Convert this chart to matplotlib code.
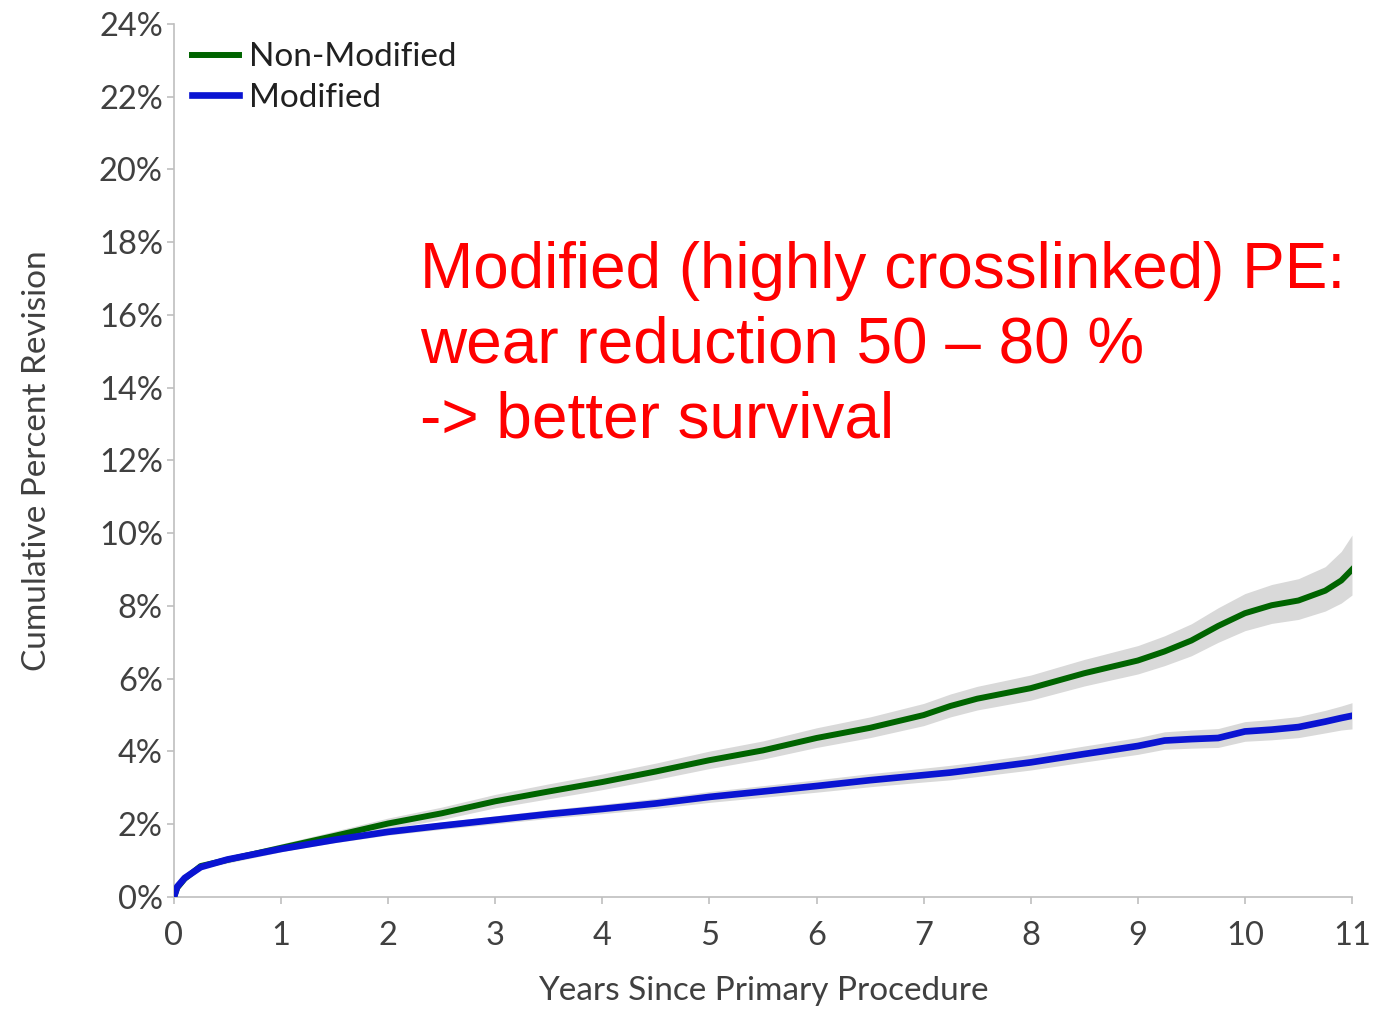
import numpy as np
import matplotlib
matplotlib.use("Agg")
import matplotlib.pyplot as plt

# Years since primary procedure
years = [0, 0.03, 0.1, 0.25, 0.5, 1.0, 1.5, 2.0, 2.5, 3.0, 3.5, 4.0, 4.5, 5.0, 5.5,
         6.0, 6.5, 7.0, 7.25, 7.5, 8.0, 8.5, 9.0, 9.25, 9.5, 9.75, 10.0, 10.25,
         10.5, 10.75, 10.9, 11.0]

# Cumulative percent revision (%)
non_modified = [0, 0.25, 0.5, 0.85, 1.02, 1.35, 1.68, 2.02, 2.3, 2.63, 2.9, 3.16,
                3.45, 3.76, 4.03, 4.37, 4.65, 5.0, 5.25, 5.45, 5.74, 6.15, 6.5,
                6.75, 7.05, 7.45, 7.8, 8.02, 8.15, 8.42, 8.7, 9.0]
modified = [0, 0.28, 0.52, 0.82, 1.03, 1.32, 1.57, 1.79, 1.96, 2.12, 2.28, 2.42,
            2.57, 2.75, 2.9, 3.05, 3.21, 3.35, 3.42, 3.51, 3.7, 3.93, 4.15, 4.3,
            4.34, 4.37, 4.55, 4.6, 4.67, 4.82, 4.92, 4.98]

# Confidence band half-widths (%)
non_mod_lo = [0, 0.03, 0.05, 0.07, 0.09, 0.11, 0.13, 0.15, 0.17, 0.18, 0.2, 0.21,
              0.22, 0.23, 0.24, 0.26, 0.27, 0.29, 0.3, 0.31, 0.33, 0.35, 0.37,
              0.39, 0.42, 0.45, 0.48, 0.5, 0.52, 0.56, 0.62, 0.7]
non_mod_hi = [0, 0.03, 0.05, 0.07, 0.09, 0.11, 0.13, 0.15, 0.17, 0.19, 0.21, 0.22,
              0.23, 0.25, 0.26, 0.28, 0.3, 0.32, 0.33, 0.34, 0.36, 0.38, 0.41,
              0.43, 0.46, 0.5, 0.54, 0.57, 0.6, 0.66, 0.8, 0.95]
mod_band = [0, 0.02, 0.04, 0.05, 0.06, 0.07, 0.08, 0.09, 0.1, 0.11, 0.12, 0.13,
            0.14, 0.15, 0.16, 0.17, 0.18, 0.19, 0.2, 0.2, 0.21, 0.22, 0.23, 0.24,
            0.25, 0.26, 0.27, 0.28, 0.29, 0.31, 0.33, 0.36]

y_ticks = list(range(0, 25, 2))
x_ticks = list(range(0, 12))

label_font = ["Lato", "DejaVu Sans"]
label_color = "#404040"

fig = plt.figure(figsize=(13.73, 10.11), dpi=100)
ax = fig.add_axes([0.1267, 0.1128, 0.858, 0.8635])

t = np.array(years)
g = np.array(non_modified)
b = np.array(modified)

ax.fill_between(t, g - np.array(non_mod_lo), g + np.array(non_mod_hi),
                color="#d9d9d9", lw=0, zorder=1)
ax.fill_between(t, b - np.array(mod_band), b + np.array(mod_band),
                color="#d9d9d9", lw=0, zorder=1)
ax.plot(t, g, color="#006400", lw=4.3, label="Non-Modified", zorder=3)
ax.plot(t, b, color="#0a14d2", lw=4.8, label="Modified", zorder=4)

ax.set_xlim(0, 11)
ax.set_ylim(0, 24)
ax.set_xticks(x_ticks)
ax.set_yticks(y_ticks)
ax.set_yticklabels([f"{v}%" for v in y_ticks])

for s in ["top", "right"]:
    ax.spines[s].set_visible(False)
for s in ["left", "bottom"]:
    ax.spines[s].set_color("#bfbfbf")
    ax.spines[s].set_linewidth(1.2)

ax.tick_params(axis="both", colors="#bfbfbf", length=5, width=1.2,
               labelcolor=label_color, labelsize=23.5)
ax.tick_params(axis="x", pad=12)
ax.tick_params(axis="y", pad=3)
for lab in ax.get_xticklabels() + ax.get_yticklabels():
    lab.set_family(label_font)

ax.set_xlabel("Years Since Primary Procedure", fontsize=24, color=label_color,
              family=label_font, labelpad=18)
ax.set_ylabel("Cumulative Percent Revision", fontsize=24, color=label_color,
              family=label_font, labelpad=34)

leg = ax.legend(loc="upper left", bbox_to_anchor=(0.0, 1.0), frameon=False,
                prop={"family": label_font, "size": 24}, handlelength=1.4,
                handletextpad=0.3, labelspacing=0.32, borderaxespad=0.15)
for txt in leg.get_texts():
    txt.set_color("#202020")

fig.text(0.306, 0.5677, "Modified (highly crosslinked) PE:\nwear reduction 50 \u2013 80 %\n-> better survival",
         color="#ff0000", fontsize=46, family=["Liberation Sans", "DejaVu Sans"],
         ha="left", va="baseline", linespacing=1.31)

fig.savefig("out.png", dpi=100)
